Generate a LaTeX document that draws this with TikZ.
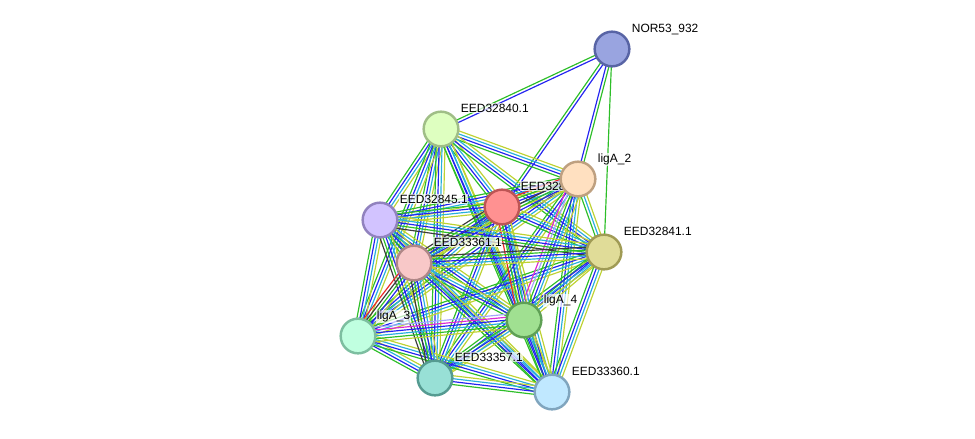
\documentclass[tikz,border=0pt]{standalone}
\usepackage{fontspec}
\setmainfont{Liberation Sans}
\usetikzlibrary{calc}
\pgfdeclarelayer{edges}
\pgfdeclarelayer{labels}
\pgfsetlayers{edges,labels,main}
% edge evidence colours
\definecolor{lgreen}{RGB}{45,190,40}
\definecolor{lblue}{RGB}{35,35,240}
\definecolor{lcyan}{RGB}{40,175,220}
\definecolor{lyellow}{RGB}{190,210,50}
\definecolor{lblack}{RGB}{60,60,60}
\definecolor{lred}{RGB}{235,40,40}
\definecolor{lmagenta}{RGB}{220,40,210}
\definecolor{lviolet}{RGB}{165,165,250}
% protein colours
\definecolor{norfill}{RGB}{153,164,224}\definecolor{nordraw}{RGB}{88,100,165}
\definecolor{efortyfill}{RGB}{222,255,192}\definecolor{efortydraw}{RGB}{160,190,135}
\definecolor{ligtwofill}{RGB}{255,224,192}\definecolor{ligtwodraw}{RGB}{190,160,128}
\definecolor{redfill}{RGB}{255,145,145}\definecolor{reddraw}{RGB}{190,85,85}
\definecolor{efortyfivefill}{RGB}{210,195,255}\definecolor{efortyfivedraw}{RGB}{145,130,190}
\definecolor{efortyonefill}{RGB}{224,220,152}\definecolor{efortyonedraw}{RGB}{160,155,85}
\definecolor{esixtyonefill}{RGB}{248,200,200}\definecolor{esixtyonedraw}{RGB}{175,135,135}
\definecolor{ligfourfill}{RGB}{160,224,145}\definecolor{ligfourdraw}{RGB}{95,160,85}
\definecolor{ligthreefill}{RGB}{192,255,224}\definecolor{ligthreedraw}{RGB}{125,190,160}
\definecolor{efiftysevenfill}{RGB}{152,224,214}\definecolor{efiftysevendraw}{RGB}{85,155,145}
\definecolor{esixtyfill}{RGB}{192,232,255}\definecolor{esixtydraw}{RGB}{128,165,190}
\tikzset{
  prot/.style={
    circle,
    line width=2.1pt,
    minimum size=1.04cm,
    inner sep=0pt
  },
  lbl/.style={
    anchor=base west,
    font=\fontsize{10.2}{12}\selectfont,
    fill=white,
    fill opacity=0.7,
    text opacity=1,
    inner sep=0.6pt
  },
  link/.style={
    line width=1pt
  }
}
% parallel coloured lines between two proteins
\newcommand{\link}[3]{%
  \gdef\nlines{0}%
  \foreach \col in {#3}{\xdef\nlines{\the\numexpr\nlines+1\relax}}%
  \foreach \col [count=\i] in {#3}{%
    \pgfmathsetmacro{\off}{(\i-(\nlines+1)/2)*2.5}%
    \draw[link, \col] ($(#1)!\off pt!90:(#2)$) -- ($(#2)!\off pt!-90:(#1)$);
  }%
}

\begin{document}
\begin{tikzpicture}[x=0.03cm, y=-0.03cm]
\useasboundingbox (0,0) rectangle (975,438);

\node[prot, fill=norfill, draw=nordraw] (nor) at (612,49) {};
\node[prot, fill=efortyfill, draw=efortydraw] (e40) at (441,129) {};
\node[prot, fill=ligtwofill, draw=ligtwodraw] (l2) at (578,179) {};
\node[prot, fill=redfill, draw=reddraw] (nr) at (502,207) {};
\node[prot, fill=efortyfivefill, draw=efortyfivedraw] (e45) at (380,220) {};
\node[prot, fill=efortyonefill, draw=efortyonedraw] (e41) at (604,252) {};
\node[prot, fill=esixtyonefill, draw=esixtyonedraw] (e61) at (414,263) {};
\node[prot, fill=ligfourfill, draw=ligfourdraw] (l4) at (524,320) {};
\node[prot, fill=ligthreefill, draw=ligthreedraw] (l3) at (358,336) {};
\node[prot, fill=efiftysevenfill, draw=efiftysevendraw] (e57) at (435,378) {};
\node[prot, fill=esixtyfill, draw=esixtydraw] (e60) at (552,392) {};

\begin{pgfonlayer}{labels}
\node[lbl] (nor-l) at ($(nor)+(19,-16.5)$) {NOR53\_932};
\node[lbl] (e40-l) at ($(e40)+(19,-16.5)$) {EED32840.1};
\node[lbl] (l2-l) at ($(l2)+(19,-16.5)$) {ligA\_2};
\node[lbl] (nr-l) at ($(nr)+(18,-16.5)$) {EED328};
\node[lbl] (e45-l) at ($(e45)+(19,-16.5)$) {EED32845.1};
\node[lbl] (e41-l) at ($(e41)+(19,-16.5)$) {EED32841.1};
\node[lbl] (e61-l) at ($(e61)+(19,-16.5)$) {EED33361.1};
\node[lbl] (l4-l) at ($(l4)+(19,-16.5)$) {ligA\_4};
\node[lbl] (l3-l) at ($(l3)+(18,-16.5)$) {ligA\_3};
\node[lbl] (e57-l) at ($(e57)+(19,-16.5)$) {EED33357.1};
\node[lbl] (e60-l) at ($(e60)+(19,-16.5)$) {EED33360.1};
\end{pgfonlayer}

\begin{pgfonlayer}{edges}
\link{nor}{e40}{lgreen,lblue}
\link{nor}{nr}{lgreen,lblue}
\link{nor}{l2}{lblue,lgreen}
\link{nor}{e41}{lgreen}
\foreach \a/\b in {e40/l2, e40/nr, e40/e45, e40/e41, e40/e61, e40/l4, e40/l3,
    e40/e57, e40/e60, l2/e45, l2/l3, l2/e57, l2/e60, nr/e45, nr/e41, nr/l3,
    nr/e57, nr/e60, e45/e61, e45/l4, e45/l3, e45/e60, e41/l4, e41/l3, e41/e57,
    e41/e60, e61/l4, e61/e60, l4/e57, l4/e60, l3/e57, l3/e60, e57/e60}
  \link{\a}{\b}{lgreen,lblue,lcyan,lyellow};
\link{l2}{e41}{lgreen,lcyan,lyellow}
\link{l2}{nr}{lred,lgreen,lblue,lcyan,lyellow}
\link{l2}{e61}{lblack,lgreen,lblue,lyellow}
\link{l2}{l4}{lmagenta,lviolet,lgreen,lblue,lcyan,lyellow}
\link{nr}{e61}{lblack,lgreen,lblue,lcyan,lyellow}
\link{nr}{l4}{lred,lgreen,lblue,lcyan,lyellow}
\link{e45}{e41}{lblack,lgreen,lblue,lcyan,lyellow}
\link{e45}{e57}{lblack,lgreen,lblue,lcyan,lyellow}
\link{e41}{e61}{lblack,lgreen,lblue,lcyan,lyellow}
\link{e61}{l3}{lred,lblack,lgreen,lblue,lyellow}
\link{e61}{e57}{lblack,lgreen,lblue,lcyan,lyellow}
\link{l4}{l3}{lviolet,lmagenta,lblue,lcyan,lgreen,lyellow}
\end{pgfonlayer}

\end{tikzpicture}
\end{document}
